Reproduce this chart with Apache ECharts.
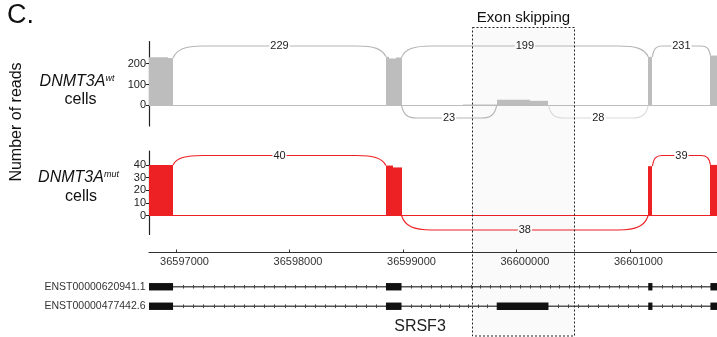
<!DOCTYPE html>
<html>
<head>
<meta charset="utf-8">
<script src="https://cdn.jsdelivr.net/npm/echarts@6/dist/echarts.min.js"></script>
<style>
  html, body { margin: 0; padding: 0; background: #fff; }
  #chart { width: 717px; height: 337px; }
</style>
</head>
<body>
<div id="chart"></div>
<script>
// SRSF3 locus sashimi plot: read coverage, splice junction arcs and transcript models
const FONT = '"Liberation Sans", Arial, Helvetica, sans-serif';

// genomic window (bp)
const xMin = 36596762;
const xMax = 36601767;
const genomicTicks = [36597000, 36598000, 36599000, 36600000, 36601000];
const wtTicks = [0, 100, 200];
const mutTicks = [0, 10, 20, 30, 40];

// read coverage: [start, end, depth]
const wtCoverage = [
  [36596762, 36596930, 230],
  [36596930, 36596974, 226],
  [36598850, 36598880, 232],
  [36598880, 36598940, 224],
  [36598940, 36598987, 229],
  [36599526, 36599826, 5],
  [36599826, 36600119, 27],
  [36600119, 36600282, 22],
  [36601161, 36601198, 232],
  [36601709, 36601767, 238]
];
const mutCoverage = [
  [36596762, 36596974, 40],
  [36598850, 36598910, 39.5],
  [36598910, 36598987, 38],
  [36601161, 36601198, 39],
  [36601709, 36601767, 40]
];

// splice junctions: [donor, acceptor, read count]
const wtJunctionsAbove = [
  [36596974, 36598850, 229],
  [36598987, 36601161, 199],
  [36601198, 36601709, 231]
];
const wtJunctionsBelow = [
  [36598987, 36599826, 23],
  [36600282, 36601161, 28]
];
const mutJunctionsAbove = [
  [36596974, 36598850, 40],
  [36601198, 36601709, 39]
];
const mutJunctionsBelow = [
  [36598987, 36601161, 38]
];

// transcript models
const transcripts = ['ENST00000620941.1', 'ENST00000477442.6'];
const exons620941 = [
  [36596762, 36596974], [36598850, 36598987], [36601161, 36601198], [36601709, 36601767]
];
const exons477442 = [
  [36596762, 36596974], [36598850, 36598987], [36599826, 36600282],
  [36601161, 36601198], [36601709, 36601767]
];
const transcriptExons = [exons620941, exons477442];

// highlighted cassette-exon region
const skippedRegion = [36599605, 36600509];
const skippedLabel = 'Exon skipping';

const GREY = '#bdbdbd';
const RED = '#ed2024';

function depthAt(cov, pos, edge) {
  for (const [s, e, d] of cov) {
    if (edge === 'end' && e === pos) return d;
    if (edge === 'start' && s === pos) return d;
  }
  return 0;
}

function arcPath(x1, y1, x2, y2, yA) {
  const w = x2 - x1;
  const r = Math.min(30, w * 0.16);
  return 'M' + x1 + ',' + y1 +
    ' C' + (x1 + 0.12 * r) + ',' + (y1 + 0.75 * (yA - y1)) + ' ' + (x1 + 0.4 * r) + ',' + yA + ' ' + (x1 + r) + ',' + yA +
    ' L' + (x2 - r) + ',' + yA +
    ' C' + (x2 - 0.4 * r) + ',' + yA + ' ' + (x2 - 0.12 * r) + ',' + (y2 + 0.75 * (yA - y2)) + ' ' + x2 + ',' + y2;
}

function coverageSeries(cov, color, xi, yi) {
  return {
    type: 'custom', xAxisIndex: xi, yAxisIndex: yi, z: 3, silent: true,
    data: cov,
    renderItem: function (params, api) {
      const p0 = api.coord([api.value(0), api.value(2)]);
      const p1 = api.coord([api.value(1), 0]);
      const x0 = Math.round(p0[0]), x1 = Math.round(p1[0]);
      return {
        type: 'rect',
        shape: { x: x0, y: p0[1], width: x1 - x0, height: p1[1] - p0[1] },
        style: { fill: color }
      };
    }
  };
}

function junctionSeries(junctions, cov, above, colors, xi, yi, dip) {
  return {
    type: 'custom', xAxisIndex: xi, yAxisIndex: yi, z: 4, silent: true,
    data: junctions,
    renderItem: function (params, api) {
      const s = api.value(0), e = api.value(1), n = api.value(2);
      const d1 = above ? depthAt(cov, s, 'end') : 0;
      const d2 = above ? depthAt(cov, e, 'start') : 0;
      const p1 = api.coord([s, d1]);
      const p2 = api.coord([e, d2]);
      const base = api.coord([s, 0])[1];
      const yA = above ? params.coordSys.y + 4.5 : base + dip;
      const color = colors[params.dataIndex % colors.length];
      const mid = (p1[0] + p2[0]) / 2;
      const regA = api.coord([skippedRegion[0], 0])[0];
      const regB = api.coord([skippedRegion[1], 0])[0];
      const inRegion = mid > regA && mid < regB;
      return {
        type: 'group',
        children: [
          {
            type: 'path',
            shape: { pathData: arcPath(p1[0], p1[1], p2[0], p2[1], yA) },
            style: { fill: 'none', stroke: color, lineWidth: 1.1 }
          },
          {
            type: 'text',
            style: {
              text: String(n), x: mid, y: yA,
              align: 'center', verticalAlign: 'middle',
              font: '11px ' + FONT, fill: '#222',
              backgroundColor: inRegion ? '#fafafa' : '#fff', padding: [0, 1]
            }
          }
        ]
      };
    }
  };
}

const chart = echarts.init(document.getElementById('chart'), null, { renderer: 'canvas' });

const option = {
  animation: false,
  backgroundColor: '#fff',
  textStyle: { fontFamily: FONT },
  grid: [
    { left: 149, right: 0, top: 41.5, height: 84.5 },
    { left: 149, right: 0, top: 151, height: 83.5 },
    { left: 149, right: 0, top: 277, height: 39 }
  ],
  xAxis: [
    { // wt baseline
      type: 'value', gridIndex: 0, min: xMin, max: xMax,
      axisLine: { onZero: true, lineStyle: { color: GREY, width: 1 } },
      axisTick: { show: false }, axisLabel: { show: false }, splitLine: { show: false }
    },
    { // genomic coordinate axis
      type: 'value', gridIndex: 1, min: xMin, max: xMax, position: 'bottom', offset: 18,
      axisLine: { onZero: false, lineStyle: { color: '#333', width: 1.2 } },
      axisTick: { inside: true, length: 3, customValues: genomicTicks, lineStyle: { color: '#333' } },
      axisLabel: {
        customValues: genomicTicks, fontSize: 11, color: '#333', margin: 4,
        padding: [0, 0, 0, 17], fontFamily: FONT,
        formatter: function (v) { return String(v); }
      },
      splitLine: { show: false }
    },
    { // mut baseline
      type: 'value', gridIndex: 1, min: xMin, max: xMax, position: 'top',
      axisLine: { onZero: true, lineStyle: { color: RED, width: 1.2 } },
      axisTick: { show: false }, axisLabel: { show: false }, splitLine: { show: false }
    },
    {
      type: 'value', gridIndex: 2, min: xMin, max: xMax, show: false
    }
  ],
  yAxis: [
    {
      type: 'value', gridIndex: 0, min: -98, max: 305,
      axisLine: { show: true, onZero: false, lineStyle: { color: '#222', width: 1.2 } },
      axisTick: { show: true, length: 3, customValues: wtTicks, lineStyle: { color: '#222' } },
      axisLabel: { customValues: wtTicks, fontSize: 11, color: '#222', margin: 3, fontFamily: FONT },
      splitLine: { show: false }
    },
    {
      type: 'value', gridIndex: 1, min: -15, max: 51,
      axisLine: { show: true, onZero: false, lineStyle: { color: '#222', width: 1.2 } },
      axisTick: { show: true, length: 3, customValues: mutTicks, lineStyle: { color: '#222' } },
      axisLabel: { customValues: mutTicks, fontSize: 11, color: '#222', margin: 3, fontFamily: FONT },
      splitLine: { show: false }
    },
    {
      type: 'category', gridIndex: 2, data: transcripts, inverse: true,
      axisLine: { show: false }, axisTick: { show: false },
      axisLabel: { fontSize: 10.5, color: '#333', margin: 3.5, fontFamily: FONT },
      splitLine: { show: false }
    }
  ],
  graphic: [
    { type: 'text', x: 7, y: 2, style: { text: 'C.', font: '27px ' + FONT, fill: '#111' } },
    {
      type: 'text', x: 16.5, y: 122, rotation: Math.PI / 2,
      style: { text: 'Number of reads', font: '16px ' + FONT, fill: '#111', align: 'center', verticalAlign: 'middle' }
    },
    {
      type: 'text', x: 77, y: 82,
      style: {
        text: '{m|DNMT3A}{s|wt}', align: 'center', verticalAlign: 'middle', fill: '#111',
        rich: {
          m: { fontFamily: FONT, fontStyle: 'italic', fontSize: 16, fill: '#111' },
          s: { fontFamily: FONT, fontStyle: 'italic', fontSize: 9, verticalAlign: 'top', fill: '#111' }
        }
      }
    },
    { type: 'text', x: 80.5, y: 100, style: { text: 'cells', font: '16px ' + FONT, fill: '#111', align: 'center', verticalAlign: 'middle' } },
    {
      type: 'text', x: 78.5, y: 178,
      style: {
        text: '{m|DNMT3A}{s|mut}', align: 'center', verticalAlign: 'middle', fill: '#111',
        rich: {
          m: { fontFamily: FONT, fontStyle: 'italic', fontSize: 16, fill: '#111' },
          s: { fontFamily: FONT, fontStyle: 'italic', fontSize: 9, verticalAlign: 'top', fill: '#111' }
        }
      }
    },
    { type: 'text', x: 81, y: 197, style: { text: 'cells', font: '16px ' + FONT, fill: '#111', align: 'center', verticalAlign: 'middle' } },
    { type: 'text', x: 420, y: 327, style: { text: 'SRSF3', font: '16px ' + FONT, fill: '#222', align: 'center', verticalAlign: 'middle' } }
  ],
  series: [
    { // shaded region behind everything
      type: 'custom', xAxisIndex: 0, yAxisIndex: 0, z: 1, silent: true,
      data: [skippedRegion],
      renderItem: function (params, api) {
        const a = api.coord([api.value(0), 0])[0];
        const b = api.coord([api.value(1), 0])[0];
        return {
          type: 'rect', shape: { x: a, y: 27.5, width: b - a, height: 308.5 },
          style: { fill: 'rgba(0,0,0,0.02)' }
        };
      }
    },
    coverageSeries(wtCoverage, GREY, 0, 0),
    junctionSeries(wtJunctionsAbove, wtCoverage, true, ['#b5b5b5'], 0, 0, 12.5),
    junctionSeries(wtJunctionsBelow, wtCoverage, false, ['#b5b5b5', '#dadada'], 0, 0, 12.5),
    coverageSeries(mutCoverage, RED, 1, 1),
    junctionSeries(mutJunctionsAbove, mutCoverage, true, [RED], 1, 1, 14.5),
    junctionSeries(mutJunctionsBelow, mutCoverage, false, [RED], 1, 1, 14.5),
    { // transcript models
      type: 'custom', xAxisIndex: 3, yAxisIndex: 2, z: 3, silent: true,
      data: [[xMin, 0], [xMin, 1]],
      renderItem: function (params, api) {
        const row = params.dataIndex;
        const exons = transcriptExons[row];
        const yC = api.coord([xMin, row])[1];
        const children = [];
        const xs = api.coord([exons[0][0], row])[0];
        const xe = api.coord([exons[exons.length - 1][1], row])[0];
        children.push({ type: 'line', shape: { x1: xs, y1: yC, x2: xe, y2: yC }, style: { stroke: '#555', lineWidth: 1.3 } });
        for (let i = 0; i + 1 < exons.length; i++) {
          const a = api.coord([exons[i][1], row])[0];
          const b = api.coord([exons[i + 1][0], row])[0];
          const n = Math.max(1, Math.round((b - a) / 10));
          const step = (b - a) / n;
          for (let k = 1; k < n; k++) {
            const x = Math.round(a + k * step) + 0.5;
            children.push({ type: 'line', shape: { x1: x, y1: yC - 1.8, x2: x, y2: yC + 1.8 }, style: { stroke: '#444', lineWidth: 1 } });
          }
        }
        exons.forEach(function (ex) {
          const x1 = api.coord([ex[0], row])[0];
          const x2 = api.coord([ex[1], row])[0];
          children.push({ type: 'rect', shape: { x: x1, y: yC - 3.7, width: x2 - x1, height: 7.4 }, style: { fill: '#111' } });
        });
        return { type: 'group', children: children };
      }
    },
    { // dashed outline and title of the shaded region
      type: 'custom', xAxisIndex: 0, yAxisIndex: 0, z: 10, silent: true,
      data: [skippedRegion],
      renderItem: function (params, api) {
        const a = Math.round(api.coord([api.value(0), 0])[0]) + 0.5;
        const b = Math.round(api.coord([api.value(1), 0])[0]) + 0.5;
        return {
          type: 'group',
          children: [
            {
              type: 'rect', shape: { x: a, y: 27.5, width: b - a, height: 308.5 },
              style: { fill: 'none', stroke: '#222', lineWidth: 1, lineDash: [2, 2] }
            },
            {
              type: 'text',
              style: { text: skippedLabel, x: (a + b) / 2, y: 18, align: 'center', verticalAlign: 'middle', font: '15px ' + FONT, fill: '#111' }
            }
          ]
        };
      }
    }
  ]
};

chart.setOption(option);
</script>
</body>
</html>
